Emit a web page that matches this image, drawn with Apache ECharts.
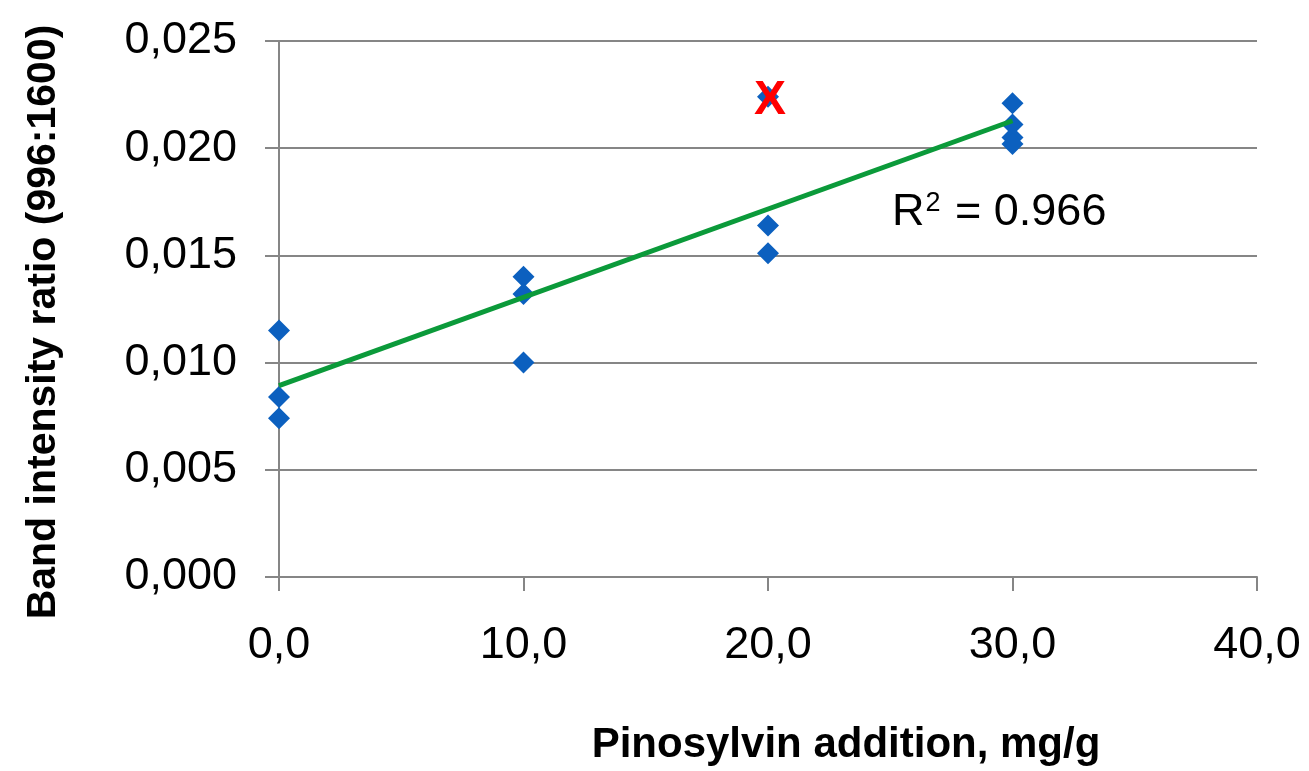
<!DOCTYPE html>
<html>
<head>
<meta charset="utf-8">
<script src="https://cdn.jsdelivr.net/npm/echarts@6/dist/echarts.min.js"></script>
<style>
  html, body { margin: 0; padding: 0; background: #ffffff; }
  #chart { width: 1309px; height: 771px; }
</style>
</head>
<body>
<div id="chart"></div>
<script>
// Pinosylvin addition (mg/g) and measured band intensity ratios
const additionLevels = [0, 10, 20, 30];
const ratiosAt0  = [0.0115, 0.0084, 0.0074];
const ratiosAt10 = [0.0140, 0.0132, 0.0100];
const ratiosAt20 = [0.0164, 0.0151];
const ratiosAt30 = [0.0221, 0.0211, 0.0205, 0.0202];
const ratioGroups = [ratiosAt0, ratiosAt10, ratiosAt20, ratiosAt30];

// excluded measurement (crossed out)
const outlierPoint = [20, 0.0224];

// linear trend line end points
const trendX = [0, 30];
const trendY = [0.00893, 0.02128];
const rSquaredValue = '0.966';

const axisTitleX = 'Pinosylvin addition, mg/g';
const axisTitleY = 'Band intensity ratio (996:1600)';

const points = [];
additionLevels.forEach((x, i) => {
  ratioGroups[i].forEach(v => points.push([x, v]));
});
const trendData = trendX.map((x, i) => [x, trendY[i]]);

const gray = '#868686';
const blue = '#0c60bf';
const green = '#0b9a3a';
const font = 'Liberation Sans, Arial, sans-serif';

const chart = echarts.init(document.getElementById('chart'), null, { renderer: 'canvas' });

chart.setOption({
  backgroundColor: '#ffffff',
  animation: false,
  textStyle: { fontFamily: font },
  grid: { left: 279, right: 52, top: 41, bottom: 194 },
  xAxis: {
    type: 'value',
    min: 0, max: 40, interval: 10,
    axisLine: { show: true, lineStyle: { color: gray, width: 2 } },
    axisTick: { show: true, inside: false, length: 14, lineStyle: { color: gray, width: 2 } },
    axisLabel: {
      margin: 46, fontSize: 45, color: '#000', fontFamily: font,
      formatter: v => v.toFixed(1).replace('.', ',')
    },
    splitLine: { show: false }
  },
  yAxis: {
    type: 'value',
    min: 0, max: 0.025, interval: 0.005,
    axisLine: { show: true, lineStyle: { color: gray, width: 2 } },
    axisTick: { show: true, inside: false, length: 14, lineStyle: { color: gray, width: 2 } },
    axisLabel: {
      margin: 42, fontSize: 45, color: '#000', fontFamily: font,
      padding: [0, 0, 8, 0],
      formatter: v => v.toFixed(3).replace('.', ',')
    },
    splitLine: { show: true, lineStyle: { color: gray, width: 2 } }
  },
  series: [
    {
      type: 'scatter',
      data: points,
      symbol: 'diamond',
      symbolSize: 22,
      itemStyle: { color: blue, opacity: 1 },
      z: 3
    },
    {
      type: 'scatter',
      data: [outlierPoint],
      symbol: 'diamond',
      symbolSize: 22,
      itemStyle: { color: blue, opacity: 1 },
      label: {
        show: true,
        position: 'inside',
        offset: [2, 4],
        formatter: 'X',
        fontFamily: font,
        fontSize: 48,
        fontWeight: 'bold',
        color: '#ff0000'
      },
      z: 4
    },
    {
      type: 'line',
      data: trendData,
      symbol: 'none',
      lineStyle: { color: green, width: 5 },
      z: 5
    }
  ],
  graphic: [
    {
      // R² annotation for the trend line
      type: 'text',
      left: 892,
      top: 190,
      style: {
        text: '{b|R}{s|2}{b| = ' + rSquaredValue + '}',
        rich: {
          b: { fontFamily: font, fontSize: 45, color: '#000', lineHeight: 46 },
          s: { fontFamily: font, fontSize: 27, color: '#000', verticalAlign: 'top', lineHeight: 46, padding: [0, 2, 0, 1] }
        }
      }
    },
    {
      type: 'text',
      x: 846,
      y: 745,
      style: {
        text: axisTitleX, fontFamily: font, fontSize: 42, fontWeight: 'bold', fill: '#000',
        align: 'center', verticalAlign: 'middle'
      }
    },
    {
      type: 'text',
      x: 44,
      y: 322,
      rotation: Math.PI / 2,
      style: {
        text: axisTitleY, fontFamily: font, fontSize: 41, fontWeight: 'bold', fill: '#000',
        align: 'center', verticalAlign: 'middle'
      }
    }
  ]
});
</script>
</body>
</html>
